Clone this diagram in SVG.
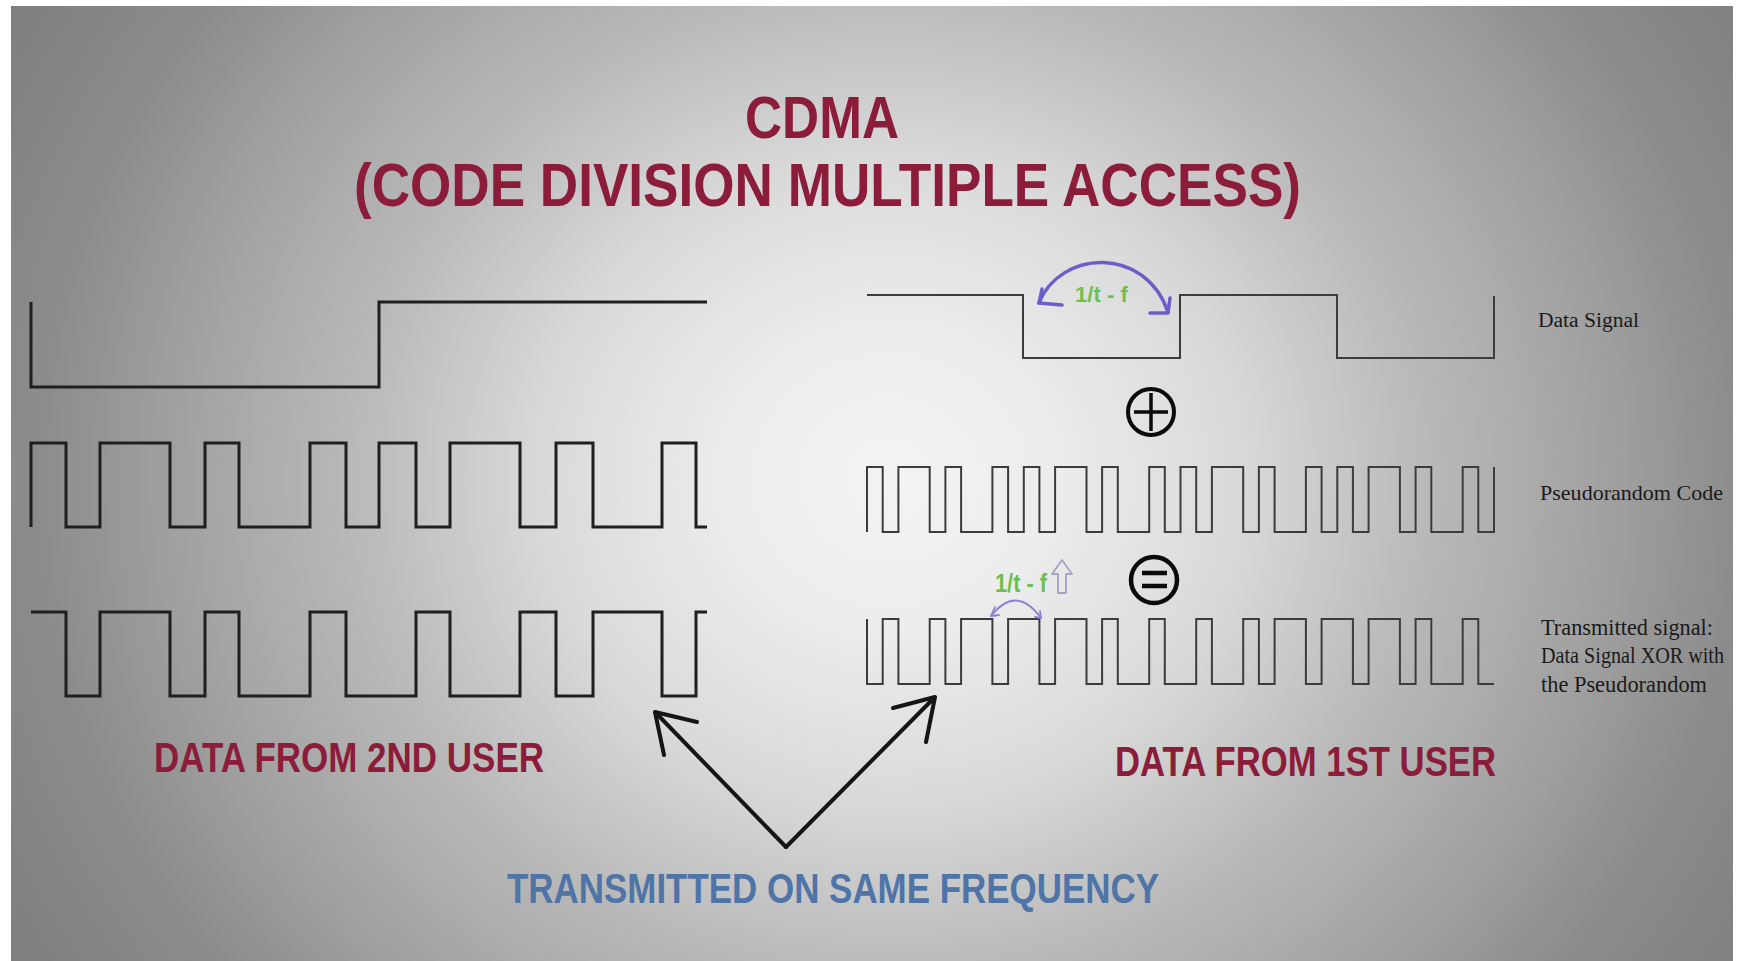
<svg xmlns="http://www.w3.org/2000/svg" width="1738" height="961" viewBox="0 0 1738 961">
  <defs>
    <radialGradient id="bgGrad" gradientUnits="userSpaceOnUse" cx="890" cy="480" r="1000" gradientTransform="translate(890 480) scale(1 0.92) translate(-890 -480)">
      <stop offset="0" stop-color="#f3f3f3"/>
      <stop offset="0.16" stop-color="#ededed"/>
      <stop offset="0.35" stop-color="#d9d9d9"/>
      <stop offset="0.53" stop-color="#bababa"/>
      <stop offset="0.7" stop-color="#a3a3a3"/>
      <stop offset="0.85" stop-color="#8c8c8c"/>
      <stop offset="1" stop-color="#808080"/>
    </radialGradient>
    <clipPath id="frame">
      <rect x="11" y="6" width="1722" height="955"/>
    </clipPath>
    <style>
      .title { font-family: "Liberation Sans", Arial, sans-serif; font-weight: bold; fill: #8b1c3a; }
      .caption { font-family: "Liberation Sans", Arial, sans-serif; font-weight: bold; font-size: 43px; }
      .red { fill: #8b1c3a; }
      .blue { fill: #4f74a8; }
      .label { font-family: "Liberation Serif", "Times New Roman", serif; fill: #1a1a1a; }
      .green { font-family: "Liberation Sans", Arial, sans-serif; font-weight: bold; fill: #6fbf4f; }
      .wave-l { fill: none; stroke: #1f1f1f; stroke-width: 3; stroke-linejoin: miter; }
      .wave-r { fill: none; stroke: #3c3c3c; stroke-width: 2; stroke-linejoin: miter; }
      .sym { fill: none; stroke: #0a0a0a; }
      .purple { fill: none; stroke: #6b5fc7; stroke-width: 3.5; stroke-linecap: round; stroke-linejoin: round; }
      .purple-thin { fill: none; stroke: #8c82d6; stroke-width: 1.8; stroke-linecap: round; stroke-linejoin: round; }
      .arrow { fill: none; stroke: #151515; stroke-width: 4; stroke-linecap: round; stroke-linejoin: round; }
    </style>
  </defs>

  <!-- page and backdrop -->
  <rect x="0" y="0" width="1738" height="961" fill="#ffffff"/>
  <rect x="11" y="6" width="1722" height="955" fill="url(#bgGrad)"/>

  <g clip-path="url(#frame)">
    <!-- heading -->
    <g id="title">
      <text class="title" x="745" y="138" font-size="60" textLength="154" lengthAdjust="spacingAndGlyphs">CDMA</text>
      <text class="title" x="354" y="206" font-size="62" textLength="947" lengthAdjust="spacingAndGlyphs">(CODE DIVISION MULTIPLE ACCESS)</text>
    </g>

    <!-- second user: data, code, product -->
    <g id="user2-data">
      <path class="wave-l" d="M31,302 V387 H379 V302 H707"/>
    </g>
    <g id="user2-code">
      <path class="wave-l" d="M31,527 V443 H66 V527 H100 V443 H170 V527 H205 V443 H239 V527 H310 V443 H346 V527 H379 V443 H416 V527 H450 V443 H520 V527 H556 V443 H593 V527 H662 V443 H696 V527 H707"/>
    </g>
    <g id="user2-tx">
      <path class="wave-l" d="M31,612 H66 V696 H100 V612 H170 V696 H205 V612 H239 V696 H310 V612 H346 V696 H416 V612 H450 V696 H520 V612 H556 V696 H593 V612 H662 V696 H696 V612 H707"/>
    </g>
    <g id="user2-caption">
      <text class="caption red" x="154" y="772" textLength="390" lengthAdjust="spacingAndGlyphs">DATA FROM 2ND USER</text>
    </g>

    <!-- first user: data, code, product -->
    <g id="user1-data">
      <path class="wave-r" d="M867,295 H1023 V358 H1180 V295 H1337 V358 H1494 V296"/>
      <path class="purple" d="M1039,303 C1060,250 1145,245 1168,312"/>
      <path class="purple" d="M1042,289 L1039,303 L1062,305"/>
      <path class="purple" d="M1150,313 L1168,313 L1170,298"/>
      <text class="green" x="1075" y="302" font-size="22" textLength="53" lengthAdjust="spacingAndGlyphs">1/t - f</text>
    </g>
    <g id="op-xor">
      <circle class="sym" cx="1151" cy="412" r="23" stroke-width="4"/>
      <path class="sym" stroke-width="3.5" d="M1134,412 H1168 M1151,393 V431"/>
    </g>
    <g id="user1-code">
      <path class="wave-r" d="M867,532 V467 H882.7 V532 H898.4 V467 H929.7 V532 H945.4 V467 H961.1 V532 H992.4 V467 H1008.1 V532 H1023.8 V467 H1039.4 V532 H1055.1 V467 H1086.5 V532 H1102.1 V467 H1117.8 V532 H1149.2 V467 H1164.8 V532 H1180.5 V467 H1196.2 V532 H1211.9 V467 H1243.2 V532 H1258.9 V467 H1274.6 V532 H1305.9 V467 H1321.6 V532 H1337.3 V467 H1352.9 V532 H1368.6 V467 H1399.9 V532 H1415.6 V467 H1431.3 V532 H1462.7 V467 H1478.3 V532 H1494 V467"/>
    </g>
    <g id="op-equals">
      <circle class="sym" cx="1154" cy="580" r="23" stroke-width="4.5"/>
      <path class="sym" stroke-width="4.5" d="M1142,573 H1167 M1142,586 H1167"/>
    </g>
    <g id="user1-tx">
      <path class="wave-r" d="M867,619 V684 H882.7 V619 H898.4 V684 H929.7 V619 H945.4 V684 H961.1 V619 H992.4 V684 H1008.1 V619 H1039.4 V684 H1055.1 V619 H1086.5 V684 H1102.1 V619 H1117.8 V684 H1149.2 V619 H1164.8 V684 H1196.2 V619 H1211.9 V684 H1243.2 V619 H1258.9 V684 H1274.6 V619 H1305.9 V684 H1321.6 V619 H1352.9 V684 H1368.6 V619 H1399.9 V684 H1415.6 V619 H1431.3 V684 H1462.7 V619 H1478.3 V684 H1494"/>
      <path class="purple-thin" d="M991,616 Q1016,584 1041,618"/>
      <path class="purple-thin" d="M995,607 L991,616 L999,615"/>
      <path class="purple-thin" d="M1035,617 L1041,618 L1040,611"/>
      <text class="green" x="995" y="592" font-size="26" textLength="52" lengthAdjust="spacingAndGlyphs">1/t - f</text>
      <path fill="none" stroke="#a3a3c6" stroke-width="1.8" stroke-linejoin="round" d="M1062,560 L1052,574 H1058 V593 H1066 V574 H1072 Z"/>
    </g>
    <g id="user1-caption">
      <text class="caption red" x="1115" y="776" textLength="381" lengthAdjust="spacingAndGlyphs">DATA FROM 1ST USER</text>
    </g>

    <!-- shared channel -->
    <g id="connectors">
      <path class="arrow" d="M786,847 L655,712 M697,722 L655,712 L664,755"/>
      <path class="arrow" d="M786,847 L935,697 M893,708 L935,697 L926,742"/>
    </g>
    <g id="channel-caption">
      <text class="caption blue" x="507" y="903" textLength="652" lengthAdjust="spacingAndGlyphs">TRANSMITTED ON SAME FREQUENCY</text>
    </g>
  </g>

  <!-- signal names -->
  <g id="labels">
    <text class="label" x="1538" y="327" font-size="20" textLength="101" lengthAdjust="spacingAndGlyphs">Data Signal</text>
    <text class="label" x="1540" y="500" font-size="21" textLength="183" lengthAdjust="spacingAndGlyphs">Pseudorandom Code</text>
    <text class="label" x="1541" y="635" font-size="24" textLength="172" lengthAdjust="spacingAndGlyphs">Transmitted signal:</text>
    <text class="label" transform="translate(1541 663) scale(0.84 1)" x="0" y="0" font-size="24">Data Signal XOR with</text>
    <text class="label" x="1541" y="692" font-size="24" textLength="166" lengthAdjust="spacingAndGlyphs">the Pseudorandom</text>
  </g>
</svg>
